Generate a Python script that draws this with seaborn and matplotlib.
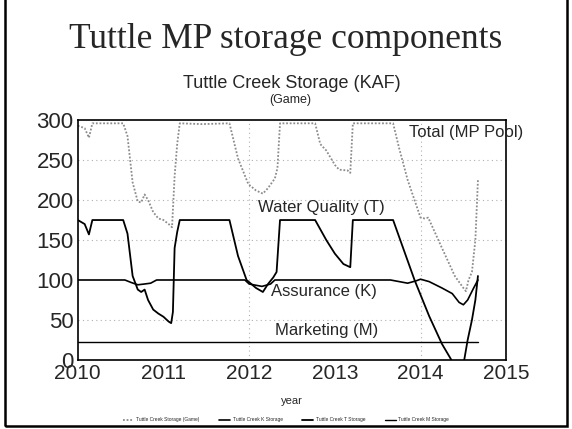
import numpy as np
import pandas as pd
import matplotlib
matplotlib.use("Agg")
import matplotlib.pyplot as plt
from matplotlib.ticker import MultipleLocator
from matplotlib.patches import Rectangle
import seaborn as sns

total_yr = [2010.00, 2010.08, 2010.13, 2010.17, 2010.53, 2010.58, 2010.64, 2010.70, 2010.74,
            2010.78, 2010.82, 2010.88, 2010.94, 2011.00, 2011.06, 2011.10, 2011.13, 2011.16,
            2011.19, 2011.45, 2011.77, 2011.87, 2011.99, 2012.08, 2012.16, 2012.22, 2012.30,
            2012.33, 2012.36, 2012.77, 2012.83, 2012.90, 2013.00, 2013.05, 2013.15, 2013.18,
            2013.21, 2013.68, 2013.75, 2013.85, 2014.00, 2014.05, 2014.09, 2014.25, 2014.40,
            2014.50, 2014.53, 2014.56, 2014.60, 2014.64, 2014.67]
total_kaf = [293, 290, 278, 296, 296, 280, 222, 198, 197,
             207, 200, 185, 177, 175, 170, 166, 230, 270,
             296, 295, 296, 252, 220, 212, 208, 215, 227,
             240, 296, 296, 270, 262, 244, 238, 237, 234,
             296, 296, 265, 225, 178, 177, 178, 140, 105,
             90, 86, 100, 110, 150, 225]

wq_yr = [2010.00, 2010.08, 2010.13, 2010.17, 2010.53, 2010.58, 2010.64, 2010.70, 2010.74,
         2010.78, 2010.82, 2010.88, 2010.94, 2011.00, 2011.06, 2011.09, 2011.11, 2011.13,
         2011.16, 2011.19, 2011.77, 2011.87, 2011.97, 2012.08, 2012.16, 2012.22, 2012.28,
         2012.32, 2012.36, 2012.77, 2012.90, 2013.00, 2013.10, 2013.18, 2013.21, 2013.68,
         2013.93, 2014.10, 2014.25, 2014.36, 2014.42, 2014.48, 2014.51, 2014.55, 2014.60,
         2014.64, 2014.67]
wq_kaf = [175, 170, 157, 175, 175, 158, 105, 88, 85,
          88, 75, 63, 58, 54, 48, 46, 60, 140,
          160, 175, 175, 130, 100, 90, 85, 95, 103,
          110, 175, 175, 150, 133, 120, 116, 175, 175,
          100, 55, 20, 0, -20, -10, 0, 25, 50,
          75, 105]

asr_yr = [2010.00, 2010.55, 2010.62, 2010.70, 2010.78, 2010.85, 2010.92, 2011.95, 2012.00,
          2012.15, 2012.25, 2012.30, 2013.65, 2013.75, 2013.85, 2013.95, 2014.00, 2014.10,
          2014.25, 2014.37, 2014.45, 2014.50, 2014.55, 2014.62, 2014.67]
asr_kaf = [100, 100, 97, 94, 95, 96, 100, 100, 95,
           92, 95, 100, 100, 98, 96, 99, 101, 98,
           90, 83, 72, 69, 75, 90, 100]

mkt_yr = [2010.00, 2014.67]
mkt_kaf = [22, 22]

legend_labels = ["Tuttle Creek Storage (Game)", "Tuttle Creek K Storage",
                 "Tuttle Creek T Storage", "Tuttle Creek M Storage"]

sns.set_style("white")
plt.rcParams['font.family'] = ['Liberation Sans', 'DejaVu Sans']

fig = plt.figure(figsize=(5.72, 4.29), dpi=100)
ax = fig.add_axes([0.136, 0.161, 0.749, 0.559])

sns.lineplot(x=total_yr, y=total_kaf, ax=ax, color="#8c8c8c", linestyle=(0, (1, 1)),
             linewidth=1.3, label=legend_labels[0])
sns.lineplot(x=asr_yr, y=asr_kaf, ax=ax, color="black", linewidth=1.2, label=legend_labels[1])
sns.lineplot(x=wq_yr, y=wq_kaf, ax=ax, color="black", linewidth=1.3, label=legend_labels[2])
sns.lineplot(x=mkt_yr, y=mkt_kaf, ax=ax, color="black", linewidth=1.0, label=legend_labels[3])

ax.set_xlim(2010, 2015)
ax.set_ylim(0, 300)
ax.set_xticks(range(2010, 2016))
ax.set_yticks(range(0, 301, 50))
ax.xaxis.set_minor_locator(MultipleLocator(1 / 12))
ax.yaxis.set_minor_locator(MultipleLocator(5))
ax.tick_params(axis='y', which='major', direction='in', length=5, width=1.2, labelsize=16, pad=3)
ax.tick_params(axis='x', which='major', direction='in', length=5, width=1.2, labelsize=15, pad=3)
ax.tick_params(axis='both', which='minor', direction='in', length=3, width=0.8)
for s in ax.spines.values():
    s.set_color("black")
    s.set_linewidth(1.2)

# grid
for v in [50, 150, 200, 250]:
    ax.axhline(v, color="#b0b0b0", linestyle=(0, (1, 3)), linewidth=0.8, zorder=0)
for yr in [2012, 2014]:
    ax.axvline(yr, color="#b0b0b0", linestyle=(0, (1, 3)), linewidth=0.8, zorder=0)

ax.set_xlabel("year", fontsize=8, labelpad=9)
ax.set_ylabel("")

# component labels
ax.text(2013.87, 284, "Total (MP Pool)", fontsize=12, va='center', clip_on=False)
ax.text(2012.10, 191, "Water Quality (T)", fontsize=12, va='center')
ax.text(2012.26, 85, "Assurance (K)", fontsize=12, va='center')
ax.text(2012.30, 37, "Marketing (M)", fontsize=12, va='center')

ax.legend_.remove()
handles, labels = ax.get_legend_handles_labels()
fig.legend(handles, labels, loc='center', bbox_to_anchor=(0.5, 1 - 420 / 429), ncol=4,
           frameon=False, fontsize=3.5, handlelength=2.2, columnspacing=4, handletextpad=0.6)

fig.text(0.5, 1 - 40 / 429, "Tuttle MP storage components", fontsize=25.5,
         family="Liberation Serif", ha='center', va='center')
fig.text(0.51, 1 - 83 / 429, "Tuttle Creek Storage (KAF)", fontsize=13, ha='center', va='center')
fig.text(0.508, 1 - 100 / 429, "(Game)", fontsize=9, ha='center', va='center')

# slide border
fig.patches.append(Rectangle((0.008, 0.006), 0.984, 1.1, transform=fig.transFigure,
                             fill=False, edgecolor="black", linewidth=1.8))

fig.savefig("out.png", dpi=100)
